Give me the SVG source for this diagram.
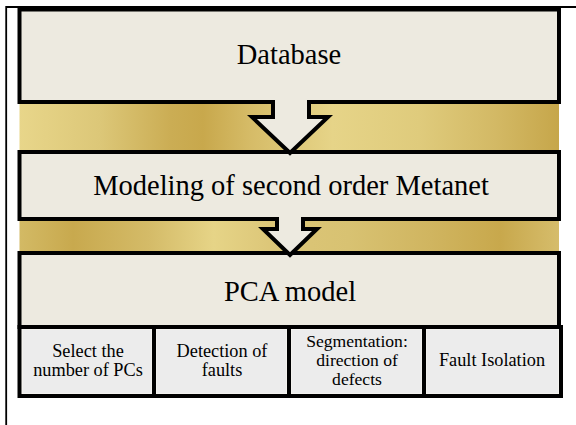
<svg xmlns="http://www.w3.org/2000/svg" width="576" height="425" viewBox="0 0 576 425">
<defs>
<linearGradient id="gold1" gradientUnits="userSpaceOnUse" x1="19" y1="0" x2="560" y2="0">
<stop offset="0" stop-color="#e8d68a"/>
<stop offset="0.15" stop-color="#dcc778"/>
<stop offset="0.28" stop-color="#cbad54"/>
<stop offset="0.34" stop-color="#c8a84c"/>
<stop offset="0.43" stop-color="#d6bc68"/>
<stop offset="0.58" stop-color="#e6d488"/>
<stop offset="0.74" stop-color="#dfcb7c"/>
<stop offset="0.88" stop-color="#d3b965"/>
<stop offset="1" stop-color="#c6a64a"/>
</linearGradient>
<linearGradient id="gold2" gradientUnits="userSpaceOnUse" x1="19" y1="0" x2="560" y2="0">
<stop offset="0" stop-color="#d3ba65"/>
<stop offset="0.1" stop-color="#c8a94e"/>
<stop offset="0.24" stop-color="#d4bb68"/>
<stop offset="0.36" stop-color="#e6d487"/>
<stop offset="0.47" stop-color="#dcc678"/>
<stop offset="0.61" stop-color="#d8c272"/>
<stop offset="0.76" stop-color="#d0b560"/>
<stop offset="0.89" stop-color="#c8a84c"/>
<stop offset="1" stop-color="#d6bd6c"/>
</linearGradient>
</defs>
<style>
.frame{stroke:#000;stroke-width:1.8;fill:none}
.box{fill:#edeae0;stroke:#000;stroke-width:4;stroke-linejoin:miter}
.cell{fill:#ececec;stroke:#faf8f0;stroke-width:1}
.grid{fill:none;stroke:#000;stroke-width:4}
text{font-family:"Liberation Serif",serif}
.big{font-size:28.5px;fill:#000;text-anchor:middle}
.small{font-size:18.3px;fill:#000;text-anchor:middle}
.tight{font-size:17.6px}
</style>
<rect width="576" height="425" fill="#ffffff"/>
<path class="frame" d="M6.2,425 V7 H576"/>
<g id="bands">
<rect x="19.5" y="102" width="539.5" height="50" fill="url(#gold1)"/>
<rect x="19.5" y="219" width="539.5" height="34" fill="url(#gold2)"/>
</g>
<g id="pca">
<rect class="box" x="19.5" y="253" width="539.5" height="74"/>
<text class="big" x="290" y="301" font-family="Liberation Serif">PCA model</text>
</g>
<g id="modeling">
<path class="box" d="M19.5,152 H559 V219 H303 V229 H317 L290,255 L263,229 H277 V219 H19.5 Z"/>
<text class="big" x="291" y="195" font-family="Liberation Serif">Modeling of second order Metanet</text>
</g>
<g id="database">
<path class="box" d="M19.5,9.5 H559 V102 H309 V117 H328 L290,153 L252,117 H273 V102 H19.5 Z"/>
<text class="big" x="289" y="64" font-family="Liberation Serif">Database</text>
</g>
<g id="subtasks">
<rect class="cell" x="22" y="329" width="130" height="65"/>
<rect class="cell" x="156" y="329" width="131" height="65"/>
<rect class="cell" x="291" y="329" width="131" height="65"/>
<rect class="cell" x="426" y="329" width="133" height="65"/>
<rect class="grid" x="19.5" y="327" width="541.5" height="69"/>
<path class="grid" d="M154,327 V396 M289,327 V396 M424,327 V396"/>
<g id="cell-select">
<text class="small" x="88" y="357">Select the</text>
<text class="small" x="88" y="376">number of PCs</text>
</g>
<g id="cell-detection">
<text class="small" x="222" y="357">Detection of</text>
<text class="small" x="222" y="376">faults</text>
</g>
<g id="cell-segmentation">
<text class="small tight" x="357" y="347">Segmentation:</text>
<text class="small tight" x="357" y="366">direction of</text>
<text class="small tight" x="357" y="385">defects</text>
</g>
<g id="cell-fault">
<text class="small" x="492" y="366">Fault Isolation</text>
</g>
</g>
</svg>
